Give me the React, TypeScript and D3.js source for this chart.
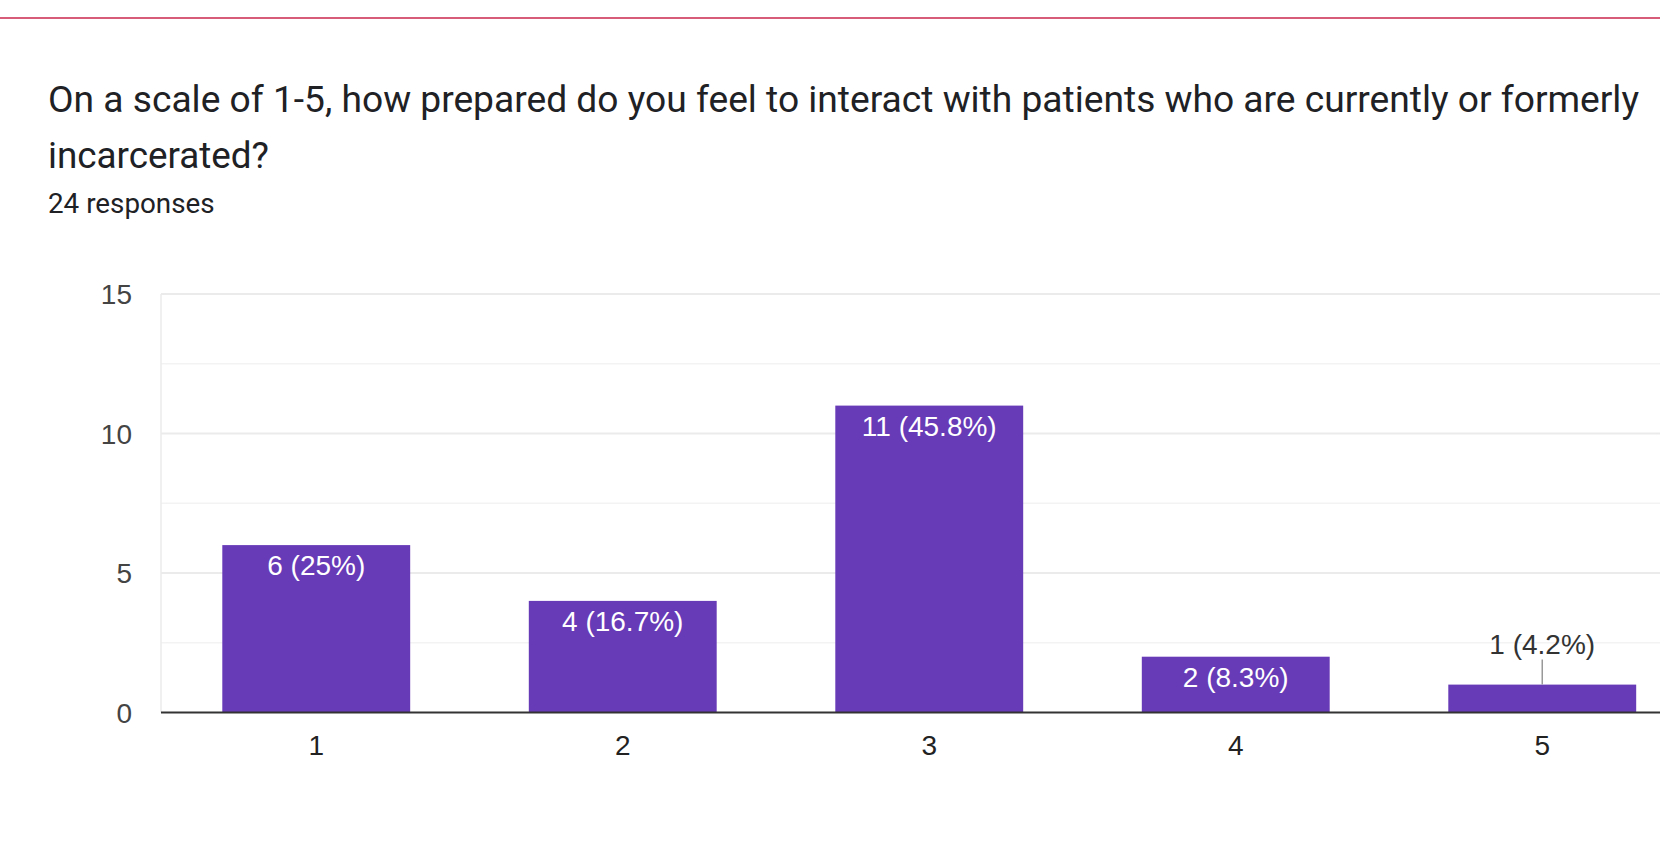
import React from "react";
import * as d3 from "d3";

// Survey question and response counts
const titleLines = [
  "On a scale of 1-5, how prepared do you feel to interact with patients who are currently or formerly",
  "incarcerated?",
];
const titleWidths = [1591, 221];
const responseNote = "24 responses";
const ratings = ["1", "2", "3", "4", "5"];
const counts = [6, 4, 11, 2, 1];
const percents = ["25%", "16.7%", "45.8%", "8.3%", "4.2%"];
const majorTicks = [0, 5, 10, 15];
const minorTicks = [2.5, 7.5, 12.5];

const W = 1660;
const H = 864;
const plotLeft = 161;
const plotTop = 294;
const plotBottom = 712.5;

export default function App() {
  const x = d3
    .scaleBand<string>()
    .domain(ratings)
    .range([plotLeft, plotLeft + 306.5 * (5 - 0.387 + 0.4)])
    .paddingInner(0.387)
    .paddingOuter(0.2);
  const y = d3.scaleLinear().domain([0, 15]).range([plotBottom, plotTop]);

  const axisFont = "Arial, 'Liberation Sans', sans-serif";
  const textFont = "Roboto, 'Noto Sans', sans-serif";
  const axisSize = 28;

  return (
    <div style={{ position: "fixed", left: 0, top: 0, width: W, height: H, background: "#fff" }}>
      <svg width={W} height={H} style={{ display: "block" }}>
        <rect x={0} y={0} width={W} height={H} fill="#fff" />
        <line x1={0} x2={W} y1={18} y2={18} stroke="#c9264d" strokeWidth={1.6} />

        {titleLines.map((t, i) => (
          <text
            key={i}
            x={48}
            y={112 + i * 55.5}
            fontFamily={textFont}
            fontSize={36.5}
            fill="#202124"
            textLength={titleWidths[i]}
            lengthAdjust="spacingAndGlyphs"
          >
            {t}
          </text>
        ))}
        <text x={48} y={213} fontFamily={textFont} fontSize={27.8} fill="#202124">
          {responseNote}
        </text>

        {/* gridlines */}
        {minorTicks.map((v) => (
          <line key={"m" + v} x1={plotLeft} x2={W} y1={y(v)} y2={y(v)} stroke="#f3f3f3" strokeWidth={1.5} />
        ))}
        {majorTicks.filter((v) => v !== 0).map((v) => (
          <line key={"g" + v} x1={plotLeft} x2={W} y1={y(v)} y2={y(v)} stroke="#ebebeb" strokeWidth={2} />
        ))}
        <line x1={plotLeft} x2={plotLeft} y1={plotTop} y2={plotBottom} stroke="#ebebeb" strokeWidth={1.5} />

        {majorTicks.map((v) => (
          <text
            key={"t" + v}
            x={132}
            y={y(v)}
            dy="0.36em"
            textAnchor="end"
            fontFamily={axisFont}
            fontSize={axisSize}
            fill="#444"
          >
            {v}
          </text>
        ))}

        {/* bars */}
        {ratings.map((r, i) => {
          const bx = x(r) as number;
          const bw = x.bandwidth();
          const top = y(counts[i]);
          const label = `${counts[i]} (${percents[i]})`;
          const inside = plotBottom - top > 40;
          const cx = bx + bw / 2;
          return (
            <g key={r}>
              <rect x={bx} y={top} width={bw} height={plotBottom - top} fill="#673ab7" />
              {inside ? (
                <text
                  x={cx}
                  y={top + 30}
                  textAnchor="middle"
                  fontFamily={axisFont}
                  fontSize={axisSize}
                  fill="#fff"
                >
                  {label}
                </text>
              ) : (
                <g>
                  <line x1={cx} x2={cx} y1={top} y2={top - 25} stroke="#999" strokeWidth={1.5} />
                  <text
                    x={cx}
                    y={top - 31}
                    textAnchor="middle"
                    fontFamily={axisFont}
                    fontSize={axisSize}
                    fill="#333"
                  >
                    {label}
                  </text>
                </g>
              )}
              <text
                x={cx}
                y={755}
                textAnchor="middle"
                fontFamily={axisFont}
                fontSize={axisSize}
                fill="#222"
              >
                {r}
              </text>
            </g>
          );
        })}

        <line x1={plotLeft} x2={W} y1={plotBottom} y2={plotBottom} stroke="#333" strokeWidth={2} />
      </svg>
    </div>
  );
}
